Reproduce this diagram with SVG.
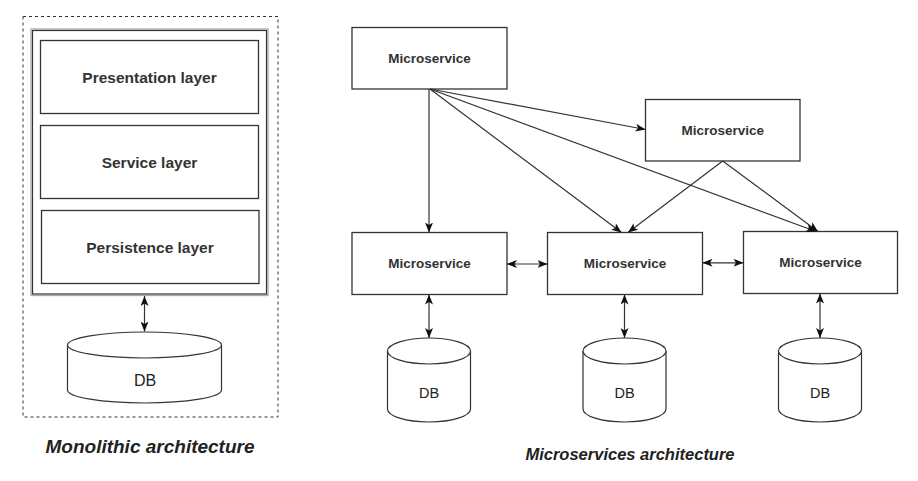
<svg xmlns="http://www.w3.org/2000/svg" width="918" height="481" viewBox="0 0 918 481">
  <defs>
    <marker id="arr" viewBox="0 0 10 8" refX="10" refY="4" markerWidth="10" markerHeight="8" markerUnits="userSpaceOnUse" orient="auto-start-reverse">
      <path d="M0,0 L10,4 L0,8 L2.5,4 Z" fill="#111"/>
    </marker>
    <style>
      .box { fill: #fff; stroke: #333; stroke-width: 1.3; }
      .cyl { fill: #fff; stroke: #333; stroke-width: 1.2; }
      .lbl { font-family: "Liberation Sans", Arial, sans-serif; font-weight: bold; fill: #333; text-anchor: middle; dominant-baseline: central; }
      .db { font-family: "Liberation Sans", Arial, sans-serif; fill: #222; text-anchor: middle; dominant-baseline: central; }
      .cap { font-family: "Liberation Sans", Arial, sans-serif; font-weight: bold; font-style: italic; fill: #222; text-anchor: middle; }
      .ln { fill: none; stroke: #333; stroke-width: 1.2; }
      .one { marker-end: url(#arr); }
      .two { marker-start: url(#arr); marker-end: url(#arr); }
    </style>
  </defs>
  <rect width="918" height="481" fill="#fff"/>

  <!-- Monolithic -->
  <g id="monolith-frame">
    <rect x="23" y="16.5" width="255" height="400.5" fill="none" stroke="#333" stroke-width="1" stroke-dasharray="3,3"/>
  </g>
  <g id="monolith-container">
    <rect x="31" y="29" width="237" height="266.5" fill="#fff" stroke="#aaa" stroke-width="1.3"/>
    <rect x="32.5" y="30.5" width="234" height="263.5" fill="none" stroke="#333" stroke-width="1.2"/>
  </g>
  <g id="presentation-layer">
    <rect class="box" x="40.5" y="40.5" width="218" height="73"/>
    <text class="lbl" x="149.5" y="77" font-size="15.5">Presentation layer</text>
  </g>
  <g id="service-layer">
    <rect class="box" x="40.5" y="125.5" width="218" height="73"/>
    <text class="lbl" x="149.5" y="162" font-size="15.5">Service layer</text>
  </g>
  <g id="persistence-layer">
    <rect class="box" x="41.5" y="210.5" width="217.5" height="73"/>
    <text class="lbl" x="150" y="247" font-size="15.5">Persistence layer</text>
  </g>
  <g id="monolith-db">
    <path class="cyl" d="M67.5,345 A77,13 0 0 1 221.5,345 L221.5,390 A77,13 0 0 1 67.5,390 Z"/>
    <path class="cyl" fill="none" d="M67.5,345 A77,13 0 0 0 221.5,345"/>
    <text class="db" x="145" y="380" font-size="16">DB</text>
  </g>
  <text id="monolith-caption" class="cap" x="150" y="452.5" font-size="19">Monolithic architecture</text>

  <!-- Microservices -->
  <g id="ms-top">
    <rect class="box" x="352" y="27.5" width="155" height="61.5"/>
    <text class="lbl" x="429.5" y="58" font-size="13.5">Microservice</text>
  </g>
  <g id="ms-right">
    <rect class="box" x="645.5" y="99.5" width="154.5" height="61.5"/>
    <text class="lbl" x="722.7" y="130" font-size="13.5">Microservice</text>
  </g>
  <g id="ms-bottom-left">
    <rect class="box" x="352" y="232.5" width="155" height="62"/>
    <text class="lbl" x="429.5" y="263.5" font-size="13.5">Microservice</text>
  </g>
  <g id="ms-bottom-mid">
    <rect class="box" x="547.5" y="232.5" width="155" height="62"/>
    <text class="lbl" x="625" y="263.5" font-size="13.5">Microservice</text>
  </g>
  <g id="ms-bottom-right">
    <rect class="box" x="743.5" y="231.5" width="154" height="62"/>
    <text class="lbl" x="820.5" y="262.5" font-size="13.5">Microservice</text>
  </g>
  <g id="db-1">
    <path class="cyl" d="M387.5,351 A41.5,13 0 0 1 470.5,351 L470.5,409 A41.5,13 0 0 1 387.5,409 Z"/>
    <path class="cyl" fill="none" d="M387.5,351 A41.5,13 0 0 0 470.5,351"/>
    <text class="db" x="429" y="393" font-size="14.5">DB</text>
  </g>
  <g id="db-2">
    <path class="cyl" d="M583,351 A41.5,13 0 0 1 666,351 L666,409 A41.5,13 0 0 1 583,409 Z"/>
    <path class="cyl" fill="none" d="M583,351 A41.5,13 0 0 0 666,351"/>
    <text class="db" x="624.5" y="393" font-size="14.5">DB</text>
  </g>
  <g id="db-3">
    <path class="cyl" d="M778.5,351 A41.5,13 0 0 1 861.5,351 L861.5,409 A41.5,13 0 0 1 778.5,409 Z"/>
    <path class="cyl" fill="none" d="M778.5,351 A41.5,13 0 0 0 861.5,351"/>
    <text class="db" x="820" y="393" font-size="14.5">DB</text>
  </g>
  <text id="ms-caption" class="cap" x="630" y="459.5" font-size="16.5">Microservices architecture</text>

  <!-- Connectors -->
  <g id="connectors">
    <path class="ln two" d="M144.5,296 L144.5,331.5"/>
    <path class="ln one" d="M429,89 L429,232.5"/>
    <path class="ln one" d="M430,89 L645.5,129.5"/>
    <path class="ln one" d="M430,89 L621.5,232.5"/>
    <path class="ln one" d="M430,89 L816,231.5"/>
    <path class="ln one" d="M722.7,161 L628,232.5"/>
    <path class="ln one" d="M722.7,161 L818,231.5"/>
    <path class="ln two" d="M507,264 L547.5,264"/>
    <path class="ln two" d="M702.5,262.8 L743.5,262.8"/>
    <path class="ln two" d="M429,294.5 L429,338"/>
    <path class="ln two" d="M624.5,294.5 L624.5,338"/>
    <path class="ln two" d="M820,293.5 L820,338"/>
  </g>
</svg>
